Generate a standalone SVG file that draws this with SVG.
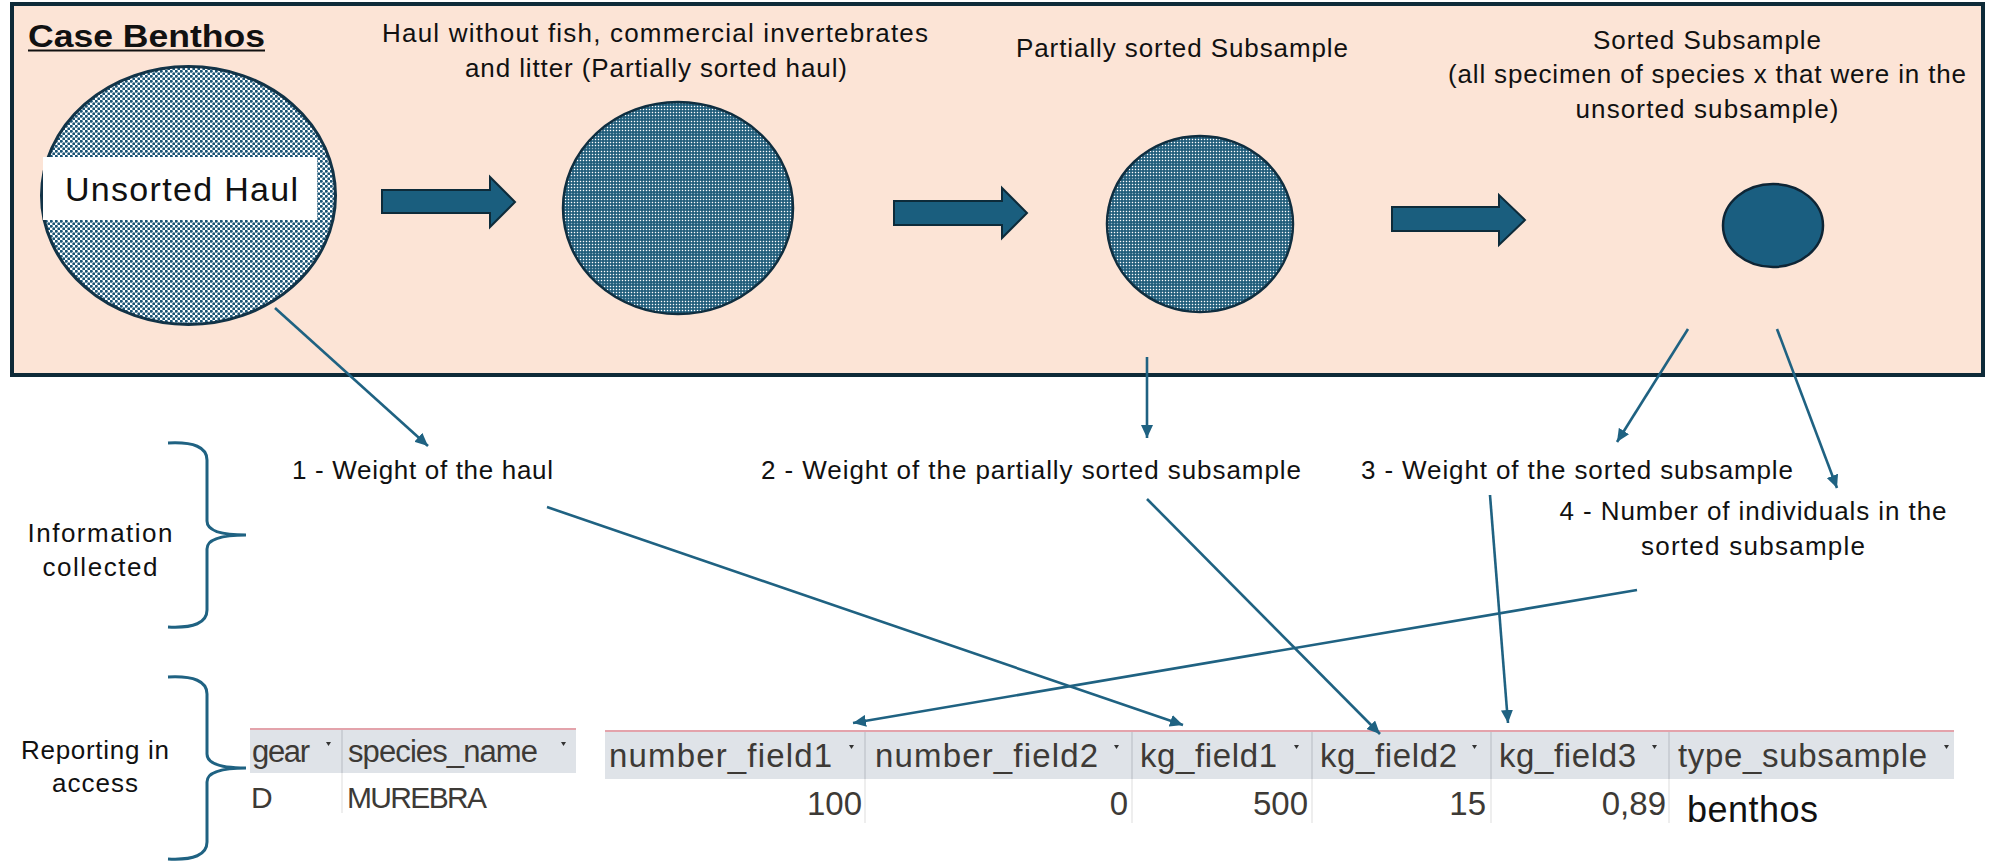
<svg xmlns="http://www.w3.org/2000/svg" width="2000" height="863" viewBox="0 0 2000 863">
<style>
.t{font-family:"Liberation Sans",Arial,sans-serif;font-size:26px;fill:#111}
.tb{font-family:"Liberation Sans",Arial,sans-serif;font-size:31px;font-weight:bold;fill:#111}
.th{font-family:"Liberation Sans",Arial,sans-serif;font-size:33px;fill:#3d3a36}
.th1{font-family:"Liberation Sans",Arial,sans-serif;font-size:31px;fill:#3d3a36}
.td{font-family:"Liberation Sans",Arial,sans-serif;font-size:33px;fill:#3d3a36}
.conn{stroke:#1f6282;stroke-width:2.6;fill:none}
.brace{stroke:#1f6282;stroke-width:3;fill:none}
.barrow{fill:#1a5e7e;stroke:#0d2b3a;stroke-width:2}
.hdr{fill:#dfe3e8}
.pink{stroke:#e3a3ab;stroke-width:2}
.hsep{stroke:#c4c9cf;stroke-width:1.5}
.dsep{stroke:#e8e8e8;stroke-width:1.5}
.fm{fill:#333}
</style>
<defs>
<pattern id="dots" width="5" height="5" patternUnits="userSpaceOnUse">
<rect width="5" height="5" fill="#ffffff"/>
<circle cx="1.25" cy="1.25" r="1.5" fill="#1a5475"/>
<circle cx="3.75" cy="3.75" r="1.5" fill="#1a5475"/>
</pattern>
<pattern id="grid" width="3" height="15" patternUnits="userSpaceOnUse">
<rect width="3" height="15" fill="#1a5877"/>
<rect x="0.8" y="0.8" width="1.4" height="1.4" fill="#ffffff"/>
<rect x="0.8" y="3.8" width="1.4" height="1.4" fill="#ffffff"/>
<rect x="0.8" y="6.8" width="1.4" height="1.4" fill="#ffffff"/>
<rect x="0.8" y="9.8" width="1.4" height="1.4" fill="#ffffff"/>
<rect x="0.8" y="12.8" width="1.4" height="1.4" fill="#8fb0c2"/>
</pattern>
<marker id="ah" viewBox="0 0 10 10" refX="10" refY="5" markerWidth="13" markerHeight="12" markerUnits="userSpaceOnUse" orient="auto" preserveAspectRatio="none">
<path d="M0,0 L10,5 L0,10 z" fill="#1f6282"/>
</marker>
</defs>
<rect width="2000" height="863" fill="#ffffff"/>

<g id="case-box">
<rect x="12" y="4" width="1971" height="371" fill="#fce4d6" stroke="#0e2a38" stroke-width="4"/>
<text class="tb" x="28" y="47" textLength="237" lengthAdjust="spacingAndGlyphs">Case Benthos</text>
<line x1="28" y1="50.5" x2="265" y2="50.5" stroke="#111" stroke-width="2"/>
</g>

<g id="node-unsorted-haul">
<ellipse cx="188.5" cy="195.5" rx="147" ry="129" fill="url(#dots)" stroke="#123347" stroke-width="3"/>
<rect x="43" y="157" width="274" height="63" fill="#ffffff"/>
<text class="t" x="65" y="201" style="font-size:34px" textLength="233">Unsorted Haul</text>
</g>

<g id="node-partially-sorted-haul">
<text class="t" x="655" y="42" text-anchor="middle" textLength="546">Haul without fish, commercial invertebrates</text>
<text class="t" x="656" y="77" text-anchor="middle" textLength="382">and litter (Partially sorted haul)</text>
<ellipse cx="678" cy="208" rx="115" ry="106" fill="url(#grid)" stroke="#0f2e40" stroke-width="2.5"/>
</g>

<g id="node-partially-sorted-subsample">
<text class="t" x="1182" y="57" text-anchor="middle" textLength="332">Partially sorted Subsample</text>
<ellipse cx="1200" cy="224" rx="93" ry="88" fill="url(#grid)" stroke="#0f2e40" stroke-width="2.5"/>
</g>

<g id="node-sorted-subsample">
<text class="t" x="1707" y="49" text-anchor="middle" textLength="228">Sorted Subsample</text>
<text class="t" x="1707" y="83" text-anchor="middle" textLength="518">(all specimen of species x that were in the</text>
<text class="t" x="1707" y="118" text-anchor="middle" textLength="263">unsorted subsample)</text>
<ellipse cx="1773" cy="225.5" rx="50" ry="41.5" fill="#1a5e80" stroke="#0e2535" stroke-width="2.5"/>
</g>

<g id="block-arrows">
<path class="barrow" d="M382,190 L490,190 L490,177 L515,202 L490,227 L490,213 L382,213 Z"/>
<path class="barrow" d="M894,201 L1002,201 L1002,188 L1027,213 L1002,238 L1002,225 L894,225 Z"/>
<path class="barrow" d="M1392,207 L1499,207 L1499,195 L1525,220 L1499,245 L1499,231 L1392,231 Z"/>
</g>

<g id="label-information-collected">
<path class="brace" d="M168,443 Q207,441 207,460 L207,521 Q207,535 246,535 Q207,535 207,549 L207,610 Q207,629 168,627"/>
<text class="t" x="100" y="542" text-anchor="middle" textLength="145">Information</text>
<text class="t" x="100" y="576" text-anchor="middle" textLength="115">collected</text>
</g>

<g id="label-reporting-in-access">
<path class="brace" d="M168,677 Q207,675 207,694 L207,754 Q207,768 246,768 Q207,768 207,782 L207,842 Q207,861 168,859"/>
<text class="t" x="95" y="759" text-anchor="middle" textLength="148">Reporting in</text>
<text class="t" x="95" y="792" text-anchor="middle" textLength="86">access</text>
</g>

<g id="info-1">
<text class="t" x="292" y="479" textLength="261">1 - Weight of the haul</text>
</g>
<g id="info-2">
<text class="t" x="761" y="479" textLength="540">2 - Weight of the partially sorted subsample</text>
</g>
<g id="info-3">
<text class="t" x="1361" y="479" textLength="432">3 - Weight of the sorted subsample</text>
</g>
<g id="info-4">
<text class="t" x="1753" y="520" text-anchor="middle" textLength="387">4 - Number of individuals in the</text>
<text class="t" x="1753" y="555" text-anchor="middle" textLength="224">sorted subsample</text>
</g>

<g id="table-species">
<rect class="hdr" x="250" y="729" width="326" height="44"/>
<line class="pink" x1="250" y1="729" x2="576" y2="729"/>
<line class="hsep" x1="342" y1="730" x2="342" y2="773"/>
<line class="dsep" x1="342" y1="773" x2="342" y2="813"/>
<text class="th1" x="252" y="762" textLength="58">gear</text>
<text class="th1" x="348" y="762" textLength="190">species_name</text>
<path class="fm" d="M326,742 L331,742 L328.5,746 Z"/>
<path class="fm" d="M561,742 L566,742 L563.5,746 Z"/>
<text class="td" x="251" y="808" style="font-size:30px">D</text>
<text class="td" x="347" y="808" style="font-size:30px" textLength="140">MUREBRA</text>
</g>

<g id="table-fields">
<rect class="hdr" x="605" y="731" width="1349" height="48"/>
<line class="pink" x1="605" y1="731" x2="1954" y2="731"/>
<line class="hsep" x1="865" y1="732" x2="865" y2="779"/>
<line class="hsep" x1="1132" y1="732" x2="1132" y2="779"/>
<line class="hsep" x1="1312" y1="732" x2="1312" y2="779"/>
<line class="hsep" x1="1491" y1="732" x2="1491" y2="779"/>
<line class="hsep" x1="1669" y1="732" x2="1669" y2="779"/>
<line class="dsep" x1="865" y1="779" x2="865" y2="823"/>
<line class="dsep" x1="1132" y1="779" x2="1132" y2="823"/>
<line class="dsep" x1="1312" y1="779" x2="1312" y2="823"/>
<line class="dsep" x1="1491" y1="779" x2="1491" y2="823"/>
<line class="dsep" x1="1669" y1="779" x2="1669" y2="823"/>
<text class="th" x="609" y="767" textLength="223">number_field1</text>
<text class="th" x="875" y="767" textLength="223">number_field2</text>
<text class="th" x="1140" y="767" textLength="137">kg_field1</text>
<text class="th" x="1320" y="767" textLength="137">kg_field2</text>
<text class="th" x="1499" y="767" textLength="137">kg_field3</text>
<text class="th" x="1678" y="767" textLength="249">type_subsample</text>
<path class="fm" d="M849,745 L854,745 L851.5,749 Z"/>
<path class="fm" d="M1114,745 L1119,745 L1116.5,749 Z"/>
<path class="fm" d="M1294,745 L1299,745 L1296.5,749 Z"/>
<path class="fm" d="M1472,745 L1477,745 L1474.5,749 Z"/>
<path class="fm" d="M1652,745 L1657,745 L1654.5,749 Z"/>
<path class="fm" d="M1944,745 L1949,745 L1946.5,749 Z"/>
<text class="td" x="862" y="815" text-anchor="end">100</text>
<text class="td" x="1128" y="815" text-anchor="end">0</text>
<text class="td" x="1308" y="815" text-anchor="end">500</text>
<text class="td" x="1486" y="815" text-anchor="end">15</text>
<text class="td" x="1666" y="815" text-anchor="end">0,89</text>
<text class="t" x="1687" y="822" style="font-size:36px" textLength="131">benthos</text>
</g>

<g id="connectors">
<line class="conn" x1="275" y1="308" x2="428" y2="446" marker-end="url(#ah)"/>
<line class="conn" x1="1147" y1="357" x2="1147" y2="438" marker-end="url(#ah)"/>
<line class="conn" x1="1688" y1="329" x2="1617" y2="442" marker-end="url(#ah)"/>
<line class="conn" x1="1777" y1="329" x2="1837" y2="488" marker-end="url(#ah)"/>
<line class="conn" x1="547" y1="507" x2="1183" y2="725" marker-end="url(#ah)"/>
<line class="conn" x1="1147" y1="499" x2="1380" y2="734" marker-end="url(#ah)"/>
<line class="conn" x1="1490" y1="495" x2="1508" y2="723" marker-end="url(#ah)"/>
<line class="conn" x1="1637" y1="590" x2="853" y2="723" marker-end="url(#ah)"/>
</g>
</svg>
